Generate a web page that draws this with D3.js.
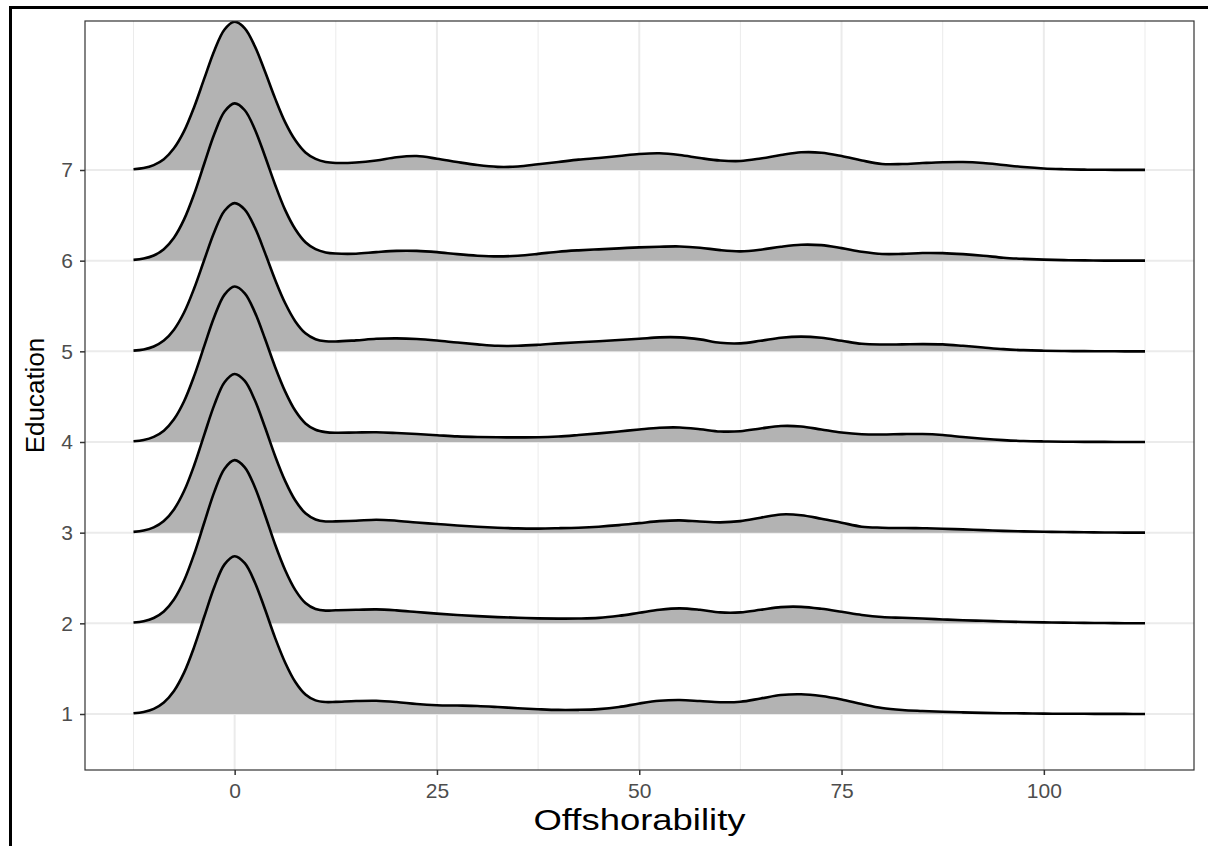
<!DOCTYPE html>
<html><head><meta charset="utf-8">
<script src="https://cdn.jsdelivr.net/npm/d3@7"></script>
<style>body{margin:0;background:#fff}svg{display:block}</style>
</head><body>
<script>
// ---- data ----
const categories = [1, 2, 3, 4, 5, 6, 7];
const offshorability = [-12.5,-11.25,-10,-8.75,-7.5,-6.25,-5,-3.75,-2.5,-1.25,0,1.25,2.5,3.75,5,6.25,7.5,8.75,10,11.25,12.5,
  15,17.5,20,22.5,25,27.5,30,32.5,35,37.5,40,42.5,45,47.5,50,52.5,55,57.5,60,62.5,65,67.5,70,72.5,75,77.5,80,82.5,85,87.5,90,92.5,95,97.5,100,102.5,105,107.5,110,112.5];
// ridge heights (in units of one category step)
const edu1 = [0.009,0.023,0.057,0.127,0.254,0.456,0.740,1.075,1.404,1.650,1.740,1.663,1.451,1.155,0.840,0.566,0.353,0.215,0.150,0.132,0.134,
  0.143,0.146,0.132,0.110,0.097,0.093,0.088,0.077,0.064,0.053,0.045,0.046,0.054,0.077,0.116,0.146,0.154,0.143,0.130,0.135,0.171,0.209,0.218,0.198,0.160,0.110,0.066,0.044,0.033,0.024,0.018,0.012,0.009,0.007,0.004,0.003,0.002,0.001,0.001,0];
const edu2 = [0.009,0.023,0.059,0.131,0.263,0.472,0.765,1.112,1.453,1.706,1.800,1.721,1.501,1.195,0.869,0.585,0.366,0.224,0.158,0.140,0.145,
  0.149,0.154,0.143,0.125,0.107,0.092,0.079,0.069,0.062,0.055,0.052,0.053,0.060,0.083,0.116,0.149,0.165,0.149,0.121,0.121,0.149,0.179,0.182,0.160,0.127,0.092,0.069,0.061,0.053,0.043,0.034,0.028,0.021,0.015,0.011,0.008,0.005,0.003,0.001,0.001];
const edu3 = [0.009,0.023,0.058,0.128,0.256,0.459,0.744,1.082,1.412,1.659,1.750,1.673,1.460,1.162,0.845,0.568,0.354,0.214,0.146,0.124,0.125,
  0.132,0.143,0.132,0.112,0.096,0.079,0.066,0.055,0.047,0.045,0.049,0.055,0.066,0.083,0.105,0.127,0.136,0.123,0.114,0.127,0.165,0.201,0.193,0.154,0.110,0.066,0.055,0.051,0.049,0.044,0.036,0.028,0.020,0.014,0.010,0.007,0.004,0.002,0.001,0.001];
const edu4 = [0.009,0.022,0.057,0.125,0.250,0.449,0.729,1.060,1.384,1.626,1.715,1.640,1.430,1.139,0.828,0.556,0.344,0.205,0.135,0.109,0.102,
  0.105,0.107,0.099,0.088,0.075,0.062,0.055,0.052,0.051,0.052,0.061,0.077,0.095,0.116,0.138,0.157,0.160,0.141,0.116,0.119,0.149,0.176,0.171,0.138,0.105,0.086,0.083,0.087,0.088,0.077,0.055,0.036,0.021,0.011,0.006,0.003,0.001,0.001,0,0];
const edu5 = [0.008,0.021,0.054,0.119,0.239,0.428,0.695,1.010,1.319,1.550,1.635,1.563,1.364,1.086,0.790,0.530,0.330,0.199,0.134,0.111,0.108,
  0.121,0.138,0.143,0.136,0.119,0.097,0.077,0.061,0.061,0.072,0.088,0.101,0.112,0.125,0.138,0.154,0.154,0.132,0.094,0.088,0.116,0.149,0.162,0.149,0.116,0.083,0.075,0.077,0.080,0.077,0.061,0.042,0.024,0.013,0.007,0.003,0.002,0.001,0,0];
const edu6 = [0.009,0.023,0.057,0.127,0.253,0.455,0.737,1.072,1.400,1.645,1.735,1.659,1.447,1.152,0.838,0.557,0.346,0.203,0.127,0.091,0.079,
  0.077,0.094,0.108,0.108,0.094,0.072,0.055,0.047,0.055,0.075,0.099,0.114,0.125,0.136,0.147,0.154,0.157,0.143,0.116,0.103,0.121,0.154,0.176,0.171,0.138,0.099,0.074,0.075,0.084,0.083,0.072,0.055,0.033,0.020,0.011,0.006,0.003,0.001,0.001,0];
const edu7 = [0.008,0.021,0.054,0.119,0.239,0.428,0.695,1.010,1.319,1.550,1.635,1.563,1.364,1.086,0.790,0.525,0.327,0.193,0.122,0.088,0.078,
  0.083,0.105,0.141,0.154,0.125,0.088,0.055,0.035,0.039,0.063,0.088,0.114,0.132,0.154,0.176,0.184,0.165,0.132,0.105,0.099,0.127,0.165,0.195,0.191,0.154,0.105,0.066,0.066,0.077,0.086,0.088,0.077,0.055,0.033,0.017,0.009,0.004,0.002,0.001,0.001];
const xTicks = [0, 25, 50, 75, 100];
const xMinor = [-12.5, 12.5, 37.5, 62.5, 87.5, 112.5];
const xTitle = "Offshorability";
const yTitle = "Education";

const series = [edu1, edu2, edu3, edu4, edu5, edu6, edu7];

// ---- layout ----
const W = 1208, H = 846;
const panel = {left: 85, right: 1194, top: 21, bottom: 770};
const FONT = "'Liberation Sans', Arial, Helvetica, sans-serif";

const svg = d3.select("body").append("svg").attr("width", W).attr("height", H);

const x = d3.scaleLinear().domain([-12.5, 112.5]).range([133.5, 1145]);
const y = d3.scaleLinear().domain([1, 7]).range([714, 170]);

// document frame (scan border)
svg.append("line").attr("x1", 9).attr("x2", W).attr("y1", 7.5).attr("y2", 7.5)
  .attr("stroke", "#000").attr("stroke-width", 3);
svg.append("line").attr("x1", 10.5).attr("x2", 10.5).attr("y1", 6).attr("y2", H)
  .attr("stroke", "#000").attr("stroke-width", 3);

// panel background
svg.append("rect").attr("x", panel.left).attr("y", panel.top)
  .attr("width", panel.right - panel.left).attr("height", panel.bottom - panel.top)
  .attr("fill", "#fff");

const grid = svg.append("g");
grid.selectAll(".vmin").data(xMinor).join("line")
  .attr("x1", d => x(d)).attr("x2", d => x(d)).attr("y1", panel.top).attr("y2", panel.bottom)
  .attr("stroke", "#ebebeb").attr("stroke-width", 1);
grid.selectAll(".vmaj").data(xTicks).join("line")
  .attr("x1", d => x(d)).attr("x2", d => x(d)).attr("y1", panel.top).attr("y2", panel.bottom)
  .attr("stroke", "#ebebeb").attr("stroke-width", 2);
grid.selectAll(".hmaj").data(categories).join("line")
  .attr("x1", panel.left).attr("x2", panel.right).attr("y1", d => y(d)).attr("y2", d => y(d))
  .attr("stroke", "#ebebeb").attr("stroke-width", 2);

// ridges, top row first so lower rows overlay
svg.append("clipPath").attr("id", "pclip").append("rect")
  .attr("x", panel.left).attr("y", panel.top).attr("width", panel.right - panel.left).attr("height", panel.bottom - panel.top);
const ridges = svg.append("g").attr("clip-path", "url(#pclip)");
const order = categories.map((c, i) => i).reverse();
const curve = d3.curveCatmullRom.alpha(0.5);
order.forEach(i => {
  const cat = categories[i];
  const pts = offshorability.map((v, j) => [v, series[i][j]]);
  const area = d3.area().curve(curve)
    .x(d => x(d[0])).y0(y(cat)).y1(d => y(cat + d[1]));
  const line = d3.line().curve(curve)
    .x(d => x(d[0])).y(d => y(cat + d[1]));
  ridges.append("path").attr("d", area(pts)).attr("fill", "#b3b3b3");
  ridges.append("path").attr("d", line(pts)).attr("fill", "none")
    .attr("stroke", "#000").attr("stroke-width", 2.6).attr("stroke-linejoin", "round");
});

// panel border
svg.append("rect").attr("x", panel.left).attr("y", panel.top)
  .attr("width", panel.right - panel.left).attr("height", panel.bottom - panel.top)
  .attr("fill", "none").attr("stroke", "#333").attr("stroke-width", 1.2);

// axes
const xAxis = d3.axisBottom(x).tickValues(xTicks).tickSize(5).tickPadding(8).tickFormat(d3.format("d"));
const gx = svg.append("g").attr("transform", `translate(0,${panel.bottom})`).call(xAxis);
gx.select(".domain").remove();
gx.selectAll(".tick line").attr("stroke", "#333").attr("stroke-width", 1.5);
gx.selectAll(".tick text").attr("fill", "#4d4d4d").style("font-family", FONT).style("font-size", "21px");

const yAxis = d3.axisLeft(y).tickValues(categories).tickSize(5).tickPadding(7).tickFormat(d3.format("d"));
const gy = svg.append("g").attr("transform", `translate(${panel.left},0)`).call(yAxis);
gy.select(".domain").remove();
gy.selectAll(".tick line").attr("stroke", "#333").attr("stroke-width", 1.5);
gy.selectAll(".tick text").attr("fill", "#4d4d4d").style("font-family", FONT).style("font-size", "21px");

svg.append("text").attr("x", (panel.left + panel.right) / 2).attr("y", 830)
  .attr("text-anchor", "middle").attr("fill", "#000")
  .attr("textLength", 212).attr("lengthAdjust", "spacingAndGlyphs")
  .style("font-family", FONT).style("font-size", "29px").text(xTitle);
svg.append("text").attr("transform", `translate(44,${(panel.top + panel.bottom) / 2}) rotate(-90)`)
  .attr("text-anchor", "middle").attr("fill", "#000")
  .style("font-family", FONT).style("font-size", "26px").text(yTitle);
</script>
</body></html>
